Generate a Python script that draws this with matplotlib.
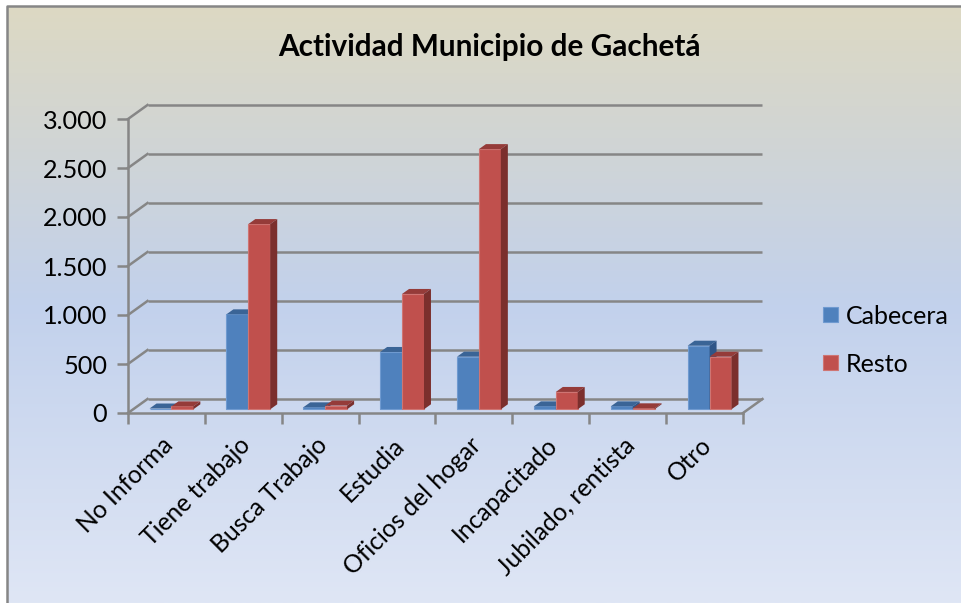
"""
Actividad Municipio de Gacheta - Excel style 3D column chart
"""

import matplotlib.pyplot as plt
import numpy as np
from matplotlib.colors import LinearSegmentedColormap
from matplotlib.patches import Polygon
from matplotlib.transforms import Affine2D, IdentityTransform

categories = ['No Informa', 'Tiene trabajo', 'Busca Trabajo', 'Estudia',
              'Oficios del hogar', 'Incapacitado', 'Jubilado, rentista', 'Otro']
cabecera = [8, 969, 20, 585, 537, 30, 30, 649]
resto = [30, 1890, 38, 1177, 2655, 177, 10, 537]
y_ticks = [0, 500, 1000, 1500, 2000, 2500, 3000]
y_labels = ['0', '500', '1.000', '1.500', '2.000', '2.500', '3.000']

W, H = 962, 603
GREY = '#868686'

plt.rcParams['font.family'] = ['Lato', 'DejaVu Sans']

fig = plt.figure(figsize=(W / 100, H / 100), dpi=100, facecolor='white')

# Background gradient of the chart area, inside the grey frame.
bg = fig.add_axes([8 / W, 0, 1 - 8 / W, 1 - 6 / H], zorder=0)
cmap = LinearSegmentedColormap.from_list('office', [
    (0.0, '#DDD9C3'), (0.22, '#D1D5D4'), (0.5, '#C2D1EC'), (1.0, '#DFE6F5')])
bg.imshow(np.linspace(0, 1, 256).reshape(-1, 1), cmap=cmap, aspect='auto')
bg.axis('off')
fig.add_artist(plt.Line2D([7.5 / W, 7.5 / W, 1], [0, 1 - 5.5 / H, 1 - 5.5 / H],
                          color=GREY, lw=1.8))

# The front plane of the 3D box is the real axes.
ax = fig.add_axes([128 / W, (H - 413) / H, 615 / W, 294 / H], zorder=1)
ax.patch.set_visible(False)
ax.set_xlim(0, 8)
ax.set_ylim(0, 3000)


def px(x, v, dx=0, dy=0):
    """ Data point to pixels, shifted by the depth offset. """
    p = ax.transData.transform((x, v))
    return p[0] + dx, p[1] + dy


def depth_line(x, v):
    """ Line from the front plane to the back wall. """
    a = px(x, v)
    b = px(x, v, WALL_DX, WALL_DY)
    ax.plot([a[0], b[0]], [a[1], b[1]], color=GREY, lw=1.8, zorder=2,
            transform=IdentityTransform(), clip_on=False)


WALL_DX, WALL_DY = 19.5, 14
BAR_DX, BAR_DY = 5, 3.7
DEPTH_DX, DEPTH_DY = 7, 5
BAR_W = 0.285

# Back wall gridlines and the diagonals on the side wall.
back = ax.transData + Affine2D().translate(WALL_DX, WALL_DY)
ax.hlines(y_ticks, 0, 8, color=GREY, lw=1.8, transform=back, clip_on=False, zorder=2)
for t in y_ticks:
    depth_line(0, t)
depth_line(8, 0)


def bar_3d(x, v, color, top, side, edge, label=None):
    """ One column: front face from ax.bar, top and side as polygons. """
    shift = ax.transData + Affine2D().translate(BAR_DX, BAR_DY)
    bars = ax.bar(x, v, BAR_W, align='edge', color=color, edgecolor=edge, lw=0.8,
                  transform=shift, clip_on=False, zorder=3, label=label)
    a = px(x, v, BAR_DX, BAR_DY)
    b = px(x + BAR_W, v, BAR_DX, BAR_DY)
    c = px(x + BAR_W, 0, BAR_DX, BAR_DY)
    d = (DEPTH_DX, DEPTH_DY)
    ax.add_patch(Polygon([a, b, (b[0] + d[0], b[1] + d[1]), (a[0] + d[0], a[1] + d[1])],
                         facecolor=top, edgecolor='none',
                         transform=IdentityTransform(), clip_on=False, zorder=3))
    ax.add_patch(Polygon([b, c, (c[0] + d[0], c[1] + d[1]), (b[0] + d[0], b[1] + d[1])],
                         facecolor=side, edgecolor='none',
                         transform=IdentityTransform(), clip_on=False, zorder=3))
    return bars


centers = np.arange(len(categories)) + 0.5
for i, c in enumerate(centers):
    bar_3d(c - BAR_W, cabecera[i], '#4F81BD', '#3A6496', '#2F5587', '#6F9AD0',
           'Cabecera' if i == 0 else None)
    bar_3d(c, resto[i], '#C0504D', '#953B39', '#7B2F2D', '#CF7573',
           'Resto' if i == 0 else None)

# Front axes lines, ticks and labels.
for s in ('top', 'right'):
    ax.spines[s].set_visible(False)
for s in ('left', 'bottom'):
    ax.spines[s].set_color(GREY)
    ax.spines[s].set_linewidth(1.8)
    ax.spines[s].set_zorder(2.5)
ax.set_yticks(y_ticks, y_labels, fontsize=18.2, color='black')
ax.set_xticks(np.arange(len(categories) + 1))
ax.set_xticklabels([])
ax.tick_params(axis='y', length=8, width=1.8, color=GREY, pad=7)
ax.tick_params(axis='x', length=8, width=1.8, color=GREY)
for c, name in zip(centers, categories):
    lx, ly = px(c, 0, 0, -28.5)
    ax.text(lx + 3, ly, name, fontsize=17.7, rotation=45, ha='right', va='center',
            rotation_mode='anchor', transform=IdentityTransform(), clip_on=False)

fig.text(489.5 / W, 1 - 47 / H, 'Actividad Municipio de Gachetá', fontsize=21.4,
         fontweight='bold', ha='center', va='center')

ax.legend(loc='center left', bbox_to_anchor=(801 / W, 1 - 340 / H),
          bbox_transform=fig.transFigure, frameon=False, fontsize=18,
          handlelength=0.585, handleheight=0.585, handletextpad=0.3, labelspacing=1.0)

plt.savefig('out.png', dpi=100)
